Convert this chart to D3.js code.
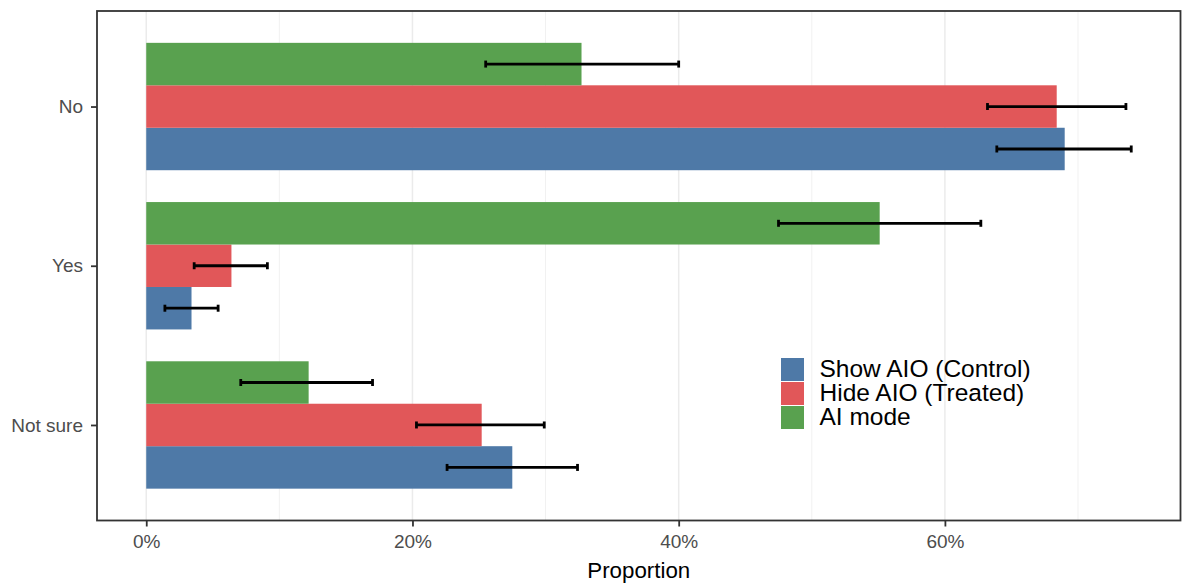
<!DOCTYPE html>
<html>
<head>
<meta charset="utf-8">
<script src="https://cdn.jsdelivr.net/npm/d3@7"></script>
<style>
  body { margin: 0; background: #fff; }
  svg { display: block; font-family: "Liberation Sans", Arial, sans-serif; }
</style>
</head>
<body>
<svg width="1182" height="584"></svg>
<script>
// categories and groups
const answers = ["No", "Yes", "Not sure"];
const groups = ["Show AIO (Control)", "Hide AIO (Treated)", "AI mode"];
const colors = ["#4E79A7", "#E15759", "#59A14F"];

// proportions per group, in answers order
const showAIO = [0.690, 0.034, 0.275];
const hideAIO = [0.684, 0.064, 0.252];
const aiMode  = [0.327, 0.551, 0.122];

// 95% intervals
const showLo = [0.639, 0.014, 0.226];
const showHi = [0.740, 0.054, 0.324];
const hideLo = [0.632, 0.036, 0.203];
const hideHi = [0.736, 0.091, 0.299];
const aiLo   = [0.255, 0.475, 0.071];
const aiHi   = [0.400, 0.627, 0.170];

const xTicks = [0, 0.2, 0.4, 0.6];
const xMinor = [0.1, 0.3, 0.5, 0.7];

const series = [
  { name: groups[0], vals: showAIO, lo: showLo, hi: showHi, color: colors[0] },
  { name: groups[1], vals: hideAIO, lo: hideLo, hi: hideHi, color: colors[1] },
  { name: groups[2], vals: aiMode,  lo: aiLo,   hi: aiHi,   color: colors[2] }
];

const rows = [];
series.forEach(s => answers.forEach((a, i) => {
  rows.push({ group: s.name, answer: a, value: s.vals[i], lo: s.lo[i], hi: s.hi[i], color: s.color });
}));

const svg = d3.select("svg");
const pL = 97, pR = 1180.5, pT = 11, pB = 520.5;

// x scale with ggplot-style 5% expansion
const xMax = d3.max(rows, d => d.hi);
const pad = xMax * 0.05;
const x = d3.scaleLinear().domain([-pad, xMax + pad]).range([pL, pR]);

// y positions: discrete with 0.6 expansion
const yCont = d3.scaleLinear().domain([-0.6, answers.length - 1 + 0.6]).range([pT, pB]);
const yCenter = a => yCont(answers.indexOf(a));
const unit = yCont(1) - yCont(0);
const bandW = 0.8 * unit;
// green on top, blue at bottom
const dodge = d3.scaleBand().domain(groups.slice().reverse()).range([-bandW / 2, bandW / 2]);

// grid
svg.append("g").selectAll("line").data(xMinor).enter().append("line")
  .attr("x1", d => x(d)).attr("x2", d => x(d))
  .attr("y1", pT).attr("y2", pB)
  .attr("stroke", "#F1F1F1").attr("stroke-width", 1);
svg.append("g").selectAll("line").data(xTicks).enter().append("line")
  .attr("x1", d => x(d)).attr("x2", d => x(d))
  .attr("y1", pT).attr("y2", pB)
  .attr("stroke", "#EBEBEB").attr("stroke-width", 1.5);

// bars
svg.append("g").selectAll("rect").data(rows).enter().append("rect")
  .attr("x", x(0))
  .attr("y", d => yCenter(d.answer) + dodge(d.group))
  .attr("width", d => x(d.value) - x(0))
  .attr("height", dodge.bandwidth())
  .attr("fill", d => d.color);

// error bars
const capH = 3.5;
const eb = svg.append("g").selectAll("g").data(rows).enter().append("g")
  .attr("transform", d => `translate(0,${yCenter(d.answer) + dodge(d.group) + dodge.bandwidth() / 2})`);
eb.append("line")
  .attr("x1", d => x(d.lo)).attr("x2", d => x(d.hi))
  .attr("y1", 0).attr("y2", 0)
  .attr("stroke", "#000").attr("stroke-width", 2.8);
eb.append("line")
  .attr("x1", d => x(d.lo)).attr("x2", d => x(d.lo))
  .attr("y1", -capH).attr("y2", capH)
  .attr("stroke", "#000").attr("stroke-width", 2.8);
eb.append("line")
  .attr("x1", d => x(d.hi)).attr("x2", d => x(d.hi))
  .attr("y1", -capH).attr("y2", capH)
  .attr("stroke", "#000").attr("stroke-width", 2.8);

// panel border
svg.append("rect")
  .attr("x", pL).attr("y", pT)
  .attr("width", pR - pL).attr("height", pB - pT)
  .attr("fill", "none").attr("stroke", "#333").attr("stroke-width", 1.8);

// x axis
const xAxis = d3.axisBottom(x).tickValues(xTicks).tickFormat(d3.format(".0%")).tickSize(6).tickPadding(8);
const gx = svg.append("g").attr("transform", `translate(0,${pB})`).call(xAxis);
gx.select(".domain").remove();
gx.selectAll(".tick line").attr("stroke", "#333").attr("stroke-width", 1.8);
gx.selectAll(".tick text").attr("fill", "#4D4D4D").attr("font-size", 19).attr("font-family", "Liberation Sans, Arial, sans-serif");

// y axis
const yPts = d3.scalePoint().domain(answers).range([yCont(0), yCont(answers.length - 1)]);
const yAxis = d3.axisLeft(yPts).tickSize(6).tickPadding(8);
const gy = svg.append("g").attr("transform", `translate(${pL},0)`).call(yAxis);
gy.select(".domain").remove();
gy.selectAll(".tick line").attr("stroke", "#333").attr("stroke-width", 1.8);
gy.selectAll(".tick text").attr("fill", "#4D4D4D").attr("font-size", 19).attr("font-family", "Liberation Sans, Arial, sans-serif");

// axis title
svg.append("text")
  .attr("x", (pL + pR) / 2).attr("y", 578)
  .attr("text-anchor", "middle")
  .attr("font-size", 22.3).attr("fill", "#000")
  .text("Proportion");

// legend
const lg = svg.append("g").attr("transform", "translate(781,358)");
const keyH = 24;
const items = lg.selectAll("g").data(series).enter().append("g")
  .attr("transform", (d, i) => `translate(0,${i * keyH})`);
items.append("rect")
  .attr("width", 23).attr("height", 23)
  .attr("fill", d => d.color);
items.append("text")
  .attr("x", 38.5).attr("y", 11.5)
  .attr("dy", "0.3em")
  .attr("font-size", 24.5).attr("fill", "#000")
  .text(d => d.name);
</script>
</body>
</html>
